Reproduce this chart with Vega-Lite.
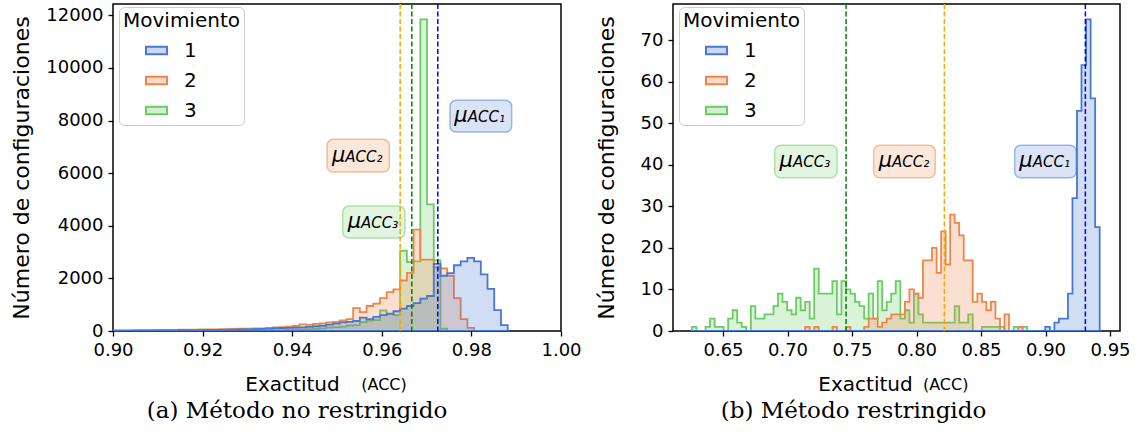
{
"$schema": "https://vega.github.io/schema/vega-lite/v6.json",
"padding": {"left": 9, "top": 2, "right": 5, "bottom": 2},
"spacing": 12,
"config": {
 "font": "DejaVu Sans",
 "view": {"stroke": "black", "strokeWidth": 1.5},
 "axis": {"domain": false, "grid": false, "tickColor": "black", "tickSize": 5, "tickWidth": 1.3, "labelFont": "DejaVu Sans", "labelFontSize": 18, "labelColor": "black", "titleFont": "DejaVu Sans", "titleFontSize": 20, "titleFontWeight": "normal", "titleColor": "black", "labelPadding": 5},
 "axisX": {"labelFlush": false},
 "axisY": {"titleFontSize": 22, "titleBaseline": "middle"},
 "legend": {"orient": "none", "legendX": 6, "legendY": 3, "titleFont": "DejaVu Sans", "titleFontSize": 20, "titleFontWeight": "normal", "titleColor": "black", "labelFont": "DejaVu Sans", "labelFontSize": 20, "labelColor": "black", "symbolType": "M-1,-0.36H1V0.36H-1Z", "symbolSize": 441, "symbolStrokeWidth": 2, "fillColor": "white", "strokeColor": "#cccccc", "cornerRadius": 5, "padding": 4, "symbolOffset": 22, "labelOffset": 16, "rowPadding": 8, "titlePadding": 8},
 "title": {"font": "DejaVu Serif", "fontSize": 23, "fontWeight": "normal", "color": "black"}
},
"resolve": {"scale": {"x": "independent", "y": "independent", "fill": "independent", "stroke": "independent", "color": "independent"}, "legend": {"fill": "independent", "stroke": "independent"}},
"datasets": {
 "histA": [
  {"s":"3","x":0.8996,"n":5},{"s":"3","x":0.9011,"n":5},{"s":"3","x":0.9026,"n":5},{"s":"3","x":0.9041,"n":6},{"s":"3","x":0.9056,"n":6},{"s":"3","x":0.9071,"n":6},{"s":"3","x":0.9086,"n":7},{"s":"3","x":0.9101,"n":7},{"s":"3","x":0.9116,"n":8},{"s":"3","x":0.9131,"n":8},{"s":"3","x":0.9146,"n":9},{"s":"3","x":0.9161,"n":9},{"s":"3","x":0.9176,"n":10},{"s":"3","x":0.9191,"n":10},{"s":"3","x":0.9206,"n":11},{"s":"3","x":0.9221,"n":12},{"s":"3","x":0.9236,"n":13},{"s":"3","x":0.9251,"n":14},{"s":"3","x":0.9266,"n":15},{"s":"3","x":0.9281,"n":16},{"s":"3","x":0.9296,"n":18},{"s":"3","x":0.9311,"n":20},{"s":"3","x":0.9326,"n":22},{"s":"3","x":0.9341,"n":25},{"s":"3","x":0.9356,"n":30},{"s":"3","x":0.9371,"n":35},{"s":"3","x":0.9386,"n":40},{"s":"3","x":0.9401,"n":50},{"s":"3","x":0.9416,"n":60},{"s":"3","x":0.9431,"n":70},{"s":"3","x":0.9446,"n":85},{"s":"3","x":0.9461,"n":100},{"s":"3","x":0.9476,"n":130},{"s":"3","x":0.9491,"n":150},{"s":"3","x":0.9506,"n":170},{"s":"3","x":0.9521,"n":210},{"s":"3","x":0.9536,"n":220},{"s":"3","x":0.9551,"n":340},{"s":"3","x":0.9566,"n":400},{"s":"3","x":0.9581,"n":410},{"s":"3","x":0.9596,"n":780},{"s":"3","x":0.9611,"n":640},{"s":"3","x":0.9626,"n":600},{"s":"3","x":0.9641,"n":3050},{"s":"3","x":0.9656,"n":2620},{"s":"3","x":0.9671,"n":2650},{"s":"3","x":0.9686,"n":11845},{"s":"3","x":0.9701,"n":4814},{"s":"3","x":0.9716,"n":2686},{"s":"3","x":0.9731,"n":90},{"s":"3","x":0.9746,"n":0},{"s":"3","x":0.9881,"n":0},
  {"s":"2","x":0.8996,"n":20},{"s":"2","x":0.9011,"n":22},{"s":"2","x":0.9026,"n":25},{"s":"2","x":0.9041,"n":28},{"s":"2","x":0.9056,"n":30},{"s":"2","x":0.9071,"n":32},{"s":"2","x":0.9086,"n":35},{"s":"2","x":0.9101,"n":38},{"s":"2","x":0.9116,"n":40},{"s":"2","x":0.9131,"n":45},{"s":"2","x":0.9146,"n":50},{"s":"2","x":0.9161,"n":52},{"s":"2","x":0.9176,"n":55},{"s":"2","x":0.9191,"n":58},{"s":"2","x":0.9206,"n":60},{"s":"2","x":0.9221,"n":65},{"s":"2","x":0.9236,"n":70},{"s":"2","x":0.9251,"n":75},{"s":"2","x":0.9266,"n":80},{"s":"2","x":0.9281,"n":85},{"s":"2","x":0.9296,"n":90},{"s":"2","x":0.9311,"n":95},{"s":"2","x":0.9326,"n":100},{"s":"2","x":0.9341,"n":120},{"s":"2","x":0.9356,"n":135},{"s":"2","x":0.9371,"n":150},{"s":"2","x":0.9386,"n":170},{"s":"2","x":0.9401,"n":190},{"s":"2","x":0.9416,"n":250},{"s":"2","x":0.9431,"n":230},{"s":"2","x":0.9446,"n":270},{"s":"2","x":0.9461,"n":290},{"s":"2","x":0.9476,"n":330},{"s":"2","x":0.9491,"n":350},{"s":"2","x":0.9506,"n":400},{"s":"2","x":0.9521,"n":450},{"s":"2","x":0.9536,"n":870},{"s":"2","x":0.9551,"n":720},{"s":"2","x":0.9566,"n":950},{"s":"2","x":0.9581,"n":1040},{"s":"2","x":0.9596,"n":1250},{"s":"2","x":0.9611,"n":1480},{"s":"2","x":0.9626,"n":1580},{"s":"2","x":0.9641,"n":1920},{"s":"2","x":0.9656,"n":2210},{"s":"2","x":0.9671,"n":3850},{"s":"2","x":0.9686,"n":2710},{"s":"2","x":0.9701,"n":2710},{"s":"2","x":0.9716,"n":2420},{"s":"2","x":0.9731,"n":2380},{"s":"2","x":0.9746,"n":2100},{"s":"2","x":0.9761,"n":1250},{"s":"2","x":0.9776,"n":450},{"s":"2","x":0.9791,"n":120},{"s":"2","x":0.9806,"n":0},{"s":"2","x":0.9881,"n":0},
  {"s":"1","x":0.8996,"n":15},{"s":"1","x":0.9011,"n":15},{"s":"1","x":0.9026,"n":18},{"s":"1","x":0.9041,"n":18},{"s":"1","x":0.9056,"n":20},{"s":"1","x":0.9071,"n":20},{"s":"1","x":0.9086,"n":22},{"s":"1","x":0.9101,"n":22},{"s":"1","x":0.9116,"n":25},{"s":"1","x":0.9131,"n":25},{"s":"1","x":0.9146,"n":28},{"s":"1","x":0.9161,"n":30},{"s":"1","x":0.9176,"n":32},{"s":"1","x":0.9191,"n":35},{"s":"1","x":0.9206,"n":38},{"s":"1","x":0.9221,"n":40},{"s":"1","x":0.9236,"n":45},{"s":"1","x":0.9251,"n":50},{"s":"1","x":0.9266,"n":55},{"s":"1","x":0.9281,"n":60},{"s":"1","x":0.9296,"n":65},{"s":"1","x":0.9311,"n":70},{"s":"1","x":0.9326,"n":80},{"s":"1","x":0.9341,"n":90},{"s":"1","x":0.9356,"n":110},{"s":"1","x":0.9371,"n":115},{"s":"1","x":0.9386,"n":120},{"s":"1","x":0.9401,"n":130},{"s":"1","x":0.9416,"n":140},{"s":"1","x":0.9431,"n":160},{"s":"1","x":0.9446,"n":180},{"s":"1","x":0.9461,"n":200},{"s":"1","x":0.9476,"n":240},{"s":"1","x":0.9491,"n":280},{"s":"1","x":0.9506,"n":330},{"s":"1","x":0.9521,"n":350},{"s":"1","x":0.9536,"n":380},{"s":"1","x":0.9551,"n":510},{"s":"1","x":0.9566,"n":450},{"s":"1","x":0.9581,"n":540},{"s":"1","x":0.9596,"n":600},{"s":"1","x":0.9611,"n":660},{"s":"1","x":0.9626,"n":750},{"s":"1","x":0.9641,"n":850},{"s":"1","x":0.9656,"n":950},{"s":"1","x":0.9671,"n":1060},{"s":"1","x":0.9686,"n":1230},{"s":"1","x":0.9701,"n":1330},{"s":"1","x":0.9716,"n":2550},{"s":"1","x":0.9731,"n":2100},{"s":"1","x":0.9746,"n":2200},{"s":"1","x":0.9761,"n":2500},{"s":"1","x":0.9776,"n":2650},{"s":"1","x":0.9791,"n":2780},{"s":"1","x":0.9806,"n":2650},{"s":"1","x":0.9821,"n":2150},{"s":"1","x":0.9836,"n":1600},{"s":"1","x":0.9851,"n":790},{"s":"1","x":0.9866,"n":220},{"s":"1","x":0.9881,"n":0}
 ],
 "histB": [
  {"s":"3","x":0.6259,"n":1},{"s":"3","x":0.6294,"n":0},{"s":"3","x":0.6364,"n":1},{"s":"3","x":0.6399,"n":3},{"s":"3","x":0.6435,"n":1},{"s":"3","x":0.6470,"n":1},{"s":"3","x":0.6505,"n":0},{"s":"3","x":0.6540,"n":3},{"s":"3","x":0.6575,"n":5},{"s":"3","x":0.6610,"n":2},{"s":"3","x":0.6645,"n":1},{"s":"3","x":0.6680,"n":0},{"s":"3","x":0.6716,"n":6},{"s":"3","x":0.6751,"n":3},{"s":"3","x":0.6786,"n":3},{"s":"3","x":0.6821,"n":4},{"s":"3","x":0.6856,"n":4},{"s":"3","x":0.6891,"n":6},{"s":"3","x":0.6926,"n":9},{"s":"3","x":0.6961,"n":7},{"s":"3","x":0.6997,"n":5},{"s":"3","x":0.7032,"n":4},{"s":"3","x":0.7067,"n":8},{"s":"3","x":0.7102,"n":5},{"s":"3","x":0.7137,"n":7},{"s":"3","x":0.7172,"n":3},{"s":"3","x":0.7207,"n":15},{"s":"3","x":0.7242,"n":9},{"s":"3","x":0.7277,"n":9},{"s":"3","x":0.7313,"n":9},{"s":"3","x":0.7348,"n":12},{"s":"3","x":0.7383,"n":4},{"s":"3","x":0.7418,"n":12},{"s":"3","x":0.7453,"n":10},{"s":"3","x":0.7488,"n":9},{"s":"3","x":0.7523,"n":7},{"s":"3","x":0.7558,"n":6},{"s":"3","x":0.7594,"n":3},{"s":"3","x":0.7629,"n":9},{"s":"3","x":0.7664,"n":3},{"s":"3","x":0.7699,"n":12},{"s":"3","x":0.7734,"n":5},{"s":"3","x":0.7769,"n":7},{"s":"3","x":0.7804,"n":9},{"s":"3","x":0.7839,"n":12},{"s":"3","x":0.7875,"n":3},{"s":"3","x":0.7910,"n":5},{"s":"3","x":0.7945,"n":2},{"s":"3","x":0.7980,"n":9},{"s":"3","x":0.8015,"n":4},{"s":"3","x":0.8050,"n":2},{"s":"3","x":0.8085,"n":2},{"s":"3","x":0.8120,"n":2},{"s":"3","x":0.8156,"n":2},{"s":"3","x":0.8191,"n":2},{"s":"3","x":0.8226,"n":2},{"s":"3","x":0.8261,"n":2},{"s":"3","x":0.8296,"n":6},{"s":"3","x":0.8331,"n":2},{"s":"3","x":0.8366,"n":2},{"s":"3","x":0.8401,"n":4},{"s":"3","x":0.8436,"n":0},{"s":"3","x":0.8507,"n":1},{"s":"3","x":0.8542,"n":1},{"s":"3","x":0.8577,"n":1},{"s":"3","x":0.8612,"n":1},{"s":"3","x":0.8647,"n":1},{"s":"3","x":0.8682,"n":0},{"s":"3","x":0.8753,"n":1},{"s":"3","x":0.8788,"n":1},{"s":"3","x":0.8823,"n":1},{"s":"3","x":0.8858,"n":0},{"s":"3","x":0.9420,"n":0},
  {"s":"2","x":0.6259,"n":0},{"s":"2","x":0.7137,"n":1},{"s":"2","x":0.7172,"n":0},{"s":"2","x":0.7207,"n":1},{"s":"2","x":0.7242,"n":0},{"s":"2","x":0.7348,"n":1},{"s":"2","x":0.7383,"n":0},{"s":"2","x":0.7453,"n":1},{"s":"2","x":0.7488,"n":0},{"s":"2","x":0.7594,"n":1},{"s":"2","x":0.7629,"n":3},{"s":"2","x":0.7664,"n":3},{"s":"2","x":0.7699,"n":1},{"s":"2","x":0.7734,"n":2},{"s":"2","x":0.7769,"n":3},{"s":"2","x":0.7804,"n":4},{"s":"2","x":0.7839,"n":4},{"s":"2","x":0.7875,"n":4},{"s":"2","x":0.7910,"n":7},{"s":"2","x":0.7945,"n":10},{"s":"2","x":0.7980,"n":9},{"s":"2","x":0.8015,"n":8},{"s":"2","x":0.8050,"n":17},{"s":"2","x":0.8085,"n":17},{"s":"2","x":0.8120,"n":20},{"s":"2","x":0.8156,"n":14},{"s":"2","x":0.8191,"n":24},{"s":"2","x":0.8226,"n":16},{"s":"2","x":0.8261,"n":28},{"s":"2","x":0.8296,"n":26},{"s":"2","x":0.8331,"n":23},{"s":"2","x":0.8366,"n":17},{"s":"2","x":0.8401,"n":17},{"s":"2","x":0.8436,"n":7},{"s":"2","x":0.8472,"n":9},{"s":"2","x":0.8507,"n":7},{"s":"2","x":0.8542,"n":5},{"s":"2","x":0.8577,"n":7},{"s":"2","x":0.8612,"n":3},{"s":"2","x":0.8647,"n":0},{"s":"2","x":0.8682,"n":4},{"s":"2","x":0.8717,"n":0},{"s":"2","x":0.8788,"n":1},{"s":"2","x":0.8823,"n":0},{"s":"2","x":0.9420,"n":0},
  {"s":"1","x":0.6259,"n":0},{"s":"1","x":0.8998,"n":1},{"s":"1","x":0.9034,"n":0},{"s":"1","x":0.9069,"n":2},{"s":"1","x":0.9104,"n":3},{"s":"1","x":0.9139,"n":3},{"s":"1","x":0.9174,"n":9},{"s":"1","x":0.9209,"n":32},{"s":"1","x":0.9244,"n":53},{"s":"1","x":0.9279,"n":64},{"s":"1","x":0.9315,"n":75},{"s":"1","x":0.9350,"n":56},{"s":"1","x":0.9385,"n":25},{"s":"1","x":0.9420,"n":0}
 ],
 "meansA": [{"s":"1","m":0.9725},{"s":"2","m":0.9641},{"s":"3","m":0.9667}],
 "meansB": [{"s":"1","m":0.9309},{"s":"2","m":0.8216},{"s":"3","m":0.7454}],
 "labA": [
  {"s":"1","x1":0.97522,"x2":0.98899,"y1":7562,"y2":8767,"xt":0.97917,"yt":7942,"lab":"ACC₁"},
  {"s":"2","x1":0.94777,"x2":0.96168,"y1":6042,"y2":7285,"xt":0.95185,"yt":6433,"lab":"ACC₂"},
  {"s":"3","x1":0.95127,"x2":0.96518,"y1":3534,"y2":4750,"xt":0.95536,"yt":3914,"lab":"ACC₃"}
 ],
 "labB": [
  {"s":"1","x1":0.8761,"x2":0.9238,"y1":36.9,"y2":44.7,"xt":0.89007,"yt":39.37,"lab":"ACC₁"},
  {"s":"2","x1":0.7668,"x2":0.8145,"y1":36.9,"y2":44.7,"xt":0.78101,"yt":39.37,"lab":"ACC₂"},
  {"s":"3","x1":0.6901,"x2":0.7384,"y1":36.9,"y2":44.7,"xt":0.70426,"yt":39.37,"lab":"ACC₃"}
 ]
},
"hconcat": [
 {
  "width": 448, "height": 327,
  "title": {"text": "(a) Método no restringido", "orient": "bottom", "anchor": "middle", "frame": "group", "dx": -40, "offset": 6},
  "layer": [
   {"data": {"name": "histA"},
    "mark": {"type": "area", "interpolate": "step-after", "fillOpacity": 0.25, "strokeWidth": 1.8, "clip": true},
    "encoding": {
     "x": {"field": "x", "type": "quantitative", "scale": {"domain": [0.9, 1.0], "nice": false, "zero": false}, "axis": {"values": [0.9, 0.92, 0.94, 0.96, 0.98, 1.0], "format": ".2f", "title": "Exactitud", "titleX": 179, "titleY": 59, "titleBaseline": "alphabetic", "titleAlign": "center"}},
     "y": {"field": "n", "type": "quantitative", "stack": null, "scale": {"domain": [0, 12430], "nice": false}, "axis": {"values": [0, 2000, 4000, 6000, 8000, 10000, 12000], "format": "d", "title": "Número de configuraciones", "titleX": -92}},
     "fill": {"field": "s", "type": "nominal", "scale": {"domain": ["1","2","3"], "range": ["#4878d0","#ee854a","#6acc64"]}, "legend": {"title": "Movimiento", "encode": {"symbols": {"update": {"fillOpacity": {"value": 0.3}, "strokeWidth": {"value": 2}}}}}},
     "stroke": {"field": "s", "type": "nominal", "scale": {"domain": ["1","2","3"], "range": ["#4878d0","#ee854a","#6acc64"]}, "legend": {"title": "Movimiento", "encode": {"symbols": {"update": {"fillOpacity": {"value": 0.3}, "strokeWidth": {"value": 2}}}}}}
    }},
   {"data": {"name": "meansA"},
    "mark": {"type": "rule", "strokeDash": [5, 2.5], "strokeWidth": 1.5},
    "encoding": {"x": {"field": "m", "type": "quantitative"}, "color": {"field": "s", "type": "nominal", "scale": {"domain": ["1","2","3"], "range": ["#0000ff","#ffa500","#008000"]}, "legend": null}}},
   {"data": {"name": "labA"},
    "mark": {"type": "rect", "cornerRadius": 6, "fillOpacity": 0.2, "strokeOpacity": 0.5, "strokeWidth": 1.5},
    "encoding": {"x": {"field": "x1", "type": "quantitative"}, "x2": {"field": "x2"}, "y": {"field": "y1", "type": "quantitative"}, "y2": {"field": "y2"},
     "fill": {"field": "s", "type": "nominal", "legend": null}, "stroke": {"field": "s", "type": "nominal", "legend": null}}},
   {"data": {"name": "labA"},
    "mark": {"type": "text", "text": "μ", "align": "right", "baseline": "alphabetic", "fontSize": 21, "fontStyle": "italic", "font": "DejaVu Sans", "color": "black"},
    "encoding": {"x": {"field": "xt", "type": "quantitative"}, "y": {"field": "yt", "type": "quantitative"}}},
   {"data": {"name": "labA"},
    "mark": {"type": "text", "align": "left", "baseline": "alphabetic", "fontSize": 15, "fontStyle": "italic", "font": "DejaVu Sans", "color": "black"},
    "encoding": {"x": {"field": "xt", "type": "quantitative"}, "y": {"field": "yt", "type": "quantitative"}, "text": {"field": "lab"}}},
   {"data": {"values": [{}]},
    "mark": {"type": "text", "text": "(ACC)", "align": "center", "baseline": "alphabetic", "fontSize": 16, "font": "DejaVu Sans", "color": "black", "clip": false},
    "encoding": {"x": {"datum": 0.9605}, "y": {"datum": -2242}}}
  ]
 },
 {
  "width": 447, "height": 327,
  "title": {"text": "(b) Método restringido", "orient": "bottom", "anchor": "middle", "frame": "group", "dx": -43, "offset": 6},
  "layer": [
   {"data": {"name": "histB"},
    "mark": {"type": "area", "interpolate": "step-after", "fillOpacity": 0.25, "strokeWidth": 1.8, "clip": true},
    "encoding": {
     "x": {"field": "x", "type": "quantitative", "scale": {"domain": [0.61124, 0.95775], "nice": false, "zero": false}, "axis": {"values": [0.65, 0.7, 0.75, 0.8, 0.85, 0.9, 0.95], "format": ".2f", "title": "Exactitud", "titleX": 192, "titleY": 59, "titleBaseline": "alphabetic", "titleAlign": "center"}},
     "y": {"field": "n", "type": "quantitative", "stack": null, "scale": {"domain": [0, 78.7], "nice": false}, "axis": {"values": [0, 10, 20, 30, 40, 50, 60, 70], "format": "d", "title": "Número de configuraciones", "titleX": -67}},
     "fill": {"field": "s", "type": "nominal", "scale": {"domain": ["1","2","3"], "range": ["#4878d0","#ee854a","#6acc64"]}, "legend": {"title": "Movimiento", "encode": {"symbols": {"update": {"fillOpacity": {"value": 0.3}, "strokeWidth": {"value": 2}}}}}},
     "stroke": {"field": "s", "type": "nominal", "scale": {"domain": ["1","2","3"], "range": ["#4878d0","#ee854a","#6acc64"]}, "legend": {"title": "Movimiento", "encode": {"symbols": {"update": {"fillOpacity": {"value": 0.3}, "strokeWidth": {"value": 2}}}}}}
    }},
   {"data": {"name": "meansB"},
    "mark": {"type": "rule", "strokeDash": [5, 2.5], "strokeWidth": 1.5},
    "encoding": {"x": {"field": "m", "type": "quantitative"}, "color": {"field": "s", "type": "nominal", "scale": {"domain": ["1","2","3"], "range": ["#0000ff","#ffa500","#008000"]}, "legend": null}}},
   {"data": {"name": "labB"},
    "mark": {"type": "rect", "cornerRadius": 6, "fillOpacity": 0.2, "strokeOpacity": 0.5, "strokeWidth": 1.5},
    "encoding": {"x": {"field": "x1", "type": "quantitative"}, "x2": {"field": "x2"}, "y": {"field": "y1", "type": "quantitative"}, "y2": {"field": "y2"},
     "fill": {"field": "s", "type": "nominal", "legend": null}, "stroke": {"field": "s", "type": "nominal", "legend": null}}},
   {"data": {"name": "labB"},
    "mark": {"type": "text", "text": "μ", "align": "right", "baseline": "alphabetic", "fontSize": 21, "fontStyle": "italic", "font": "DejaVu Sans", "color": "black"},
    "encoding": {"x": {"field": "xt", "type": "quantitative"}, "y": {"field": "yt", "type": "quantitative"}}},
   {"data": {"name": "labB"},
    "mark": {"type": "text", "align": "left", "baseline": "alphabetic", "fontSize": 15, "fontStyle": "italic", "font": "DejaVu Sans", "color": "black"},
    "encoding": {"x": {"field": "xt", "type": "quantitative"}, "y": {"field": "yt", "type": "quantitative"}, "text": {"field": "lab"}}},
   {"data": {"values": [{}]},
    "mark": {"type": "text", "text": "(ACC)", "align": "center", "baseline": "alphabetic", "fontSize": 16, "font": "DejaVu Sans", "color": "black", "clip": false},
    "encoding": {"x": {"datum": 0.8226}, "y": {"datum": -14.2}}}
  ]
 }
]
}
